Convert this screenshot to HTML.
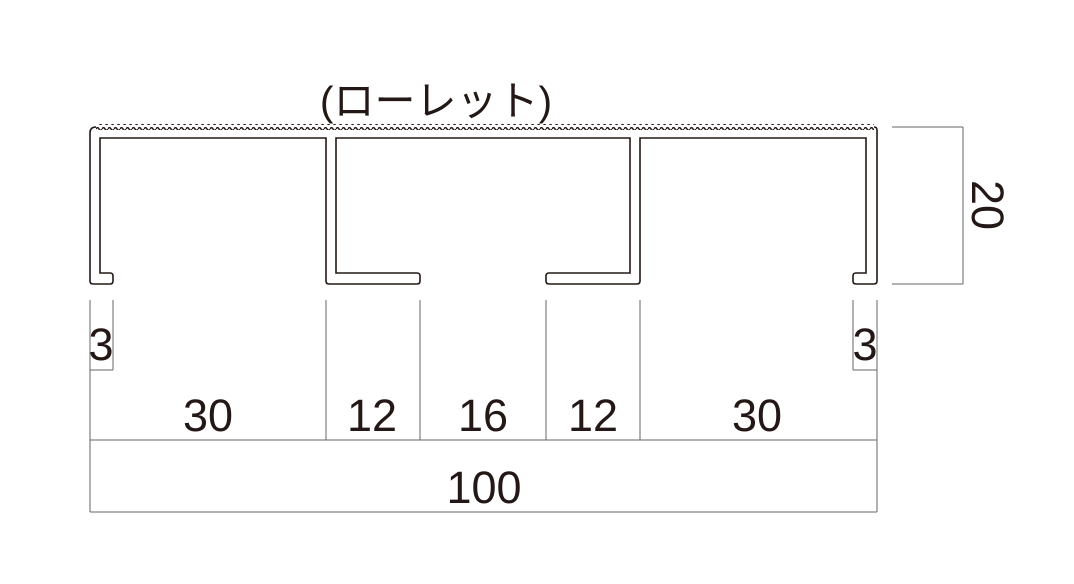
<!DOCTYPE html>
<html><head><meta charset="utf-8"><style>
html,body{margin:0;padding:0;background:#fff;}
svg{display:block}
text{font-family:"Liberation Sans","Noto Sans CJK JP",sans-serif;fill:#231815}
</style></head><body>
<svg width="1074" height="584" viewBox="0 0 1074 584" xmlns="http://www.w3.org/2000/svg">
<defs>
<pattern id="wave" x="0" y="0" width="6" height="6" patternUnits="userSpaceOnUse">
<path d="M0,3 Q1.5,0.3 3,3 T6,3" fill="none" stroke="#231815" stroke-width="1.5"/>
</pattern>
</defs>
<path d="M96,127 Q90,127 90,133 L90,281 Q90,284 93,284 L110,284 Q113,284 113,281 L113,276 Q113,273 110,273 L100,273 L100,138 L326,138 L326,281 Q326,284 329,284 L417,284 Q420,284 420,281 L420,276 Q420,273 417,273 L336,273 L336,138 L630,138 L630,273 L549,273 Q546,273 546,276 L546,281 Q546,284 549,284 L637,284 Q640,284 640,281 L640,138 L866,138 L866,273 L856,273 Q853,273 853,276 L853,281 Q853,284 856,284 L874,284 Q877,284 877,281 L877,130 Q877,127 874,127" fill="none" stroke="#231815" stroke-width="1.6"/>
<rect x="96" y="124" width="778" height="6" fill="url(#wave)"/>
<g stroke="#666" stroke-width="1" fill="none">
<line x1="90" y1="300" x2="90" y2="512"/>
<line x1="113" y1="300" x2="113" y2="370"/>
<line x1="90" y1="370" x2="113" y2="370"/>
<line x1="853" y1="300" x2="853" y2="370"/>
<line x1="853" y1="370" x2="877" y2="370"/>
<line x1="877" y1="300" x2="877" y2="512"/>
<line x1="326" y1="300" x2="326" y2="440"/>
<line x1="420" y1="300" x2="420" y2="440"/>
<line x1="546" y1="300" x2="546" y2="440"/>
<line x1="640" y1="300" x2="640" y2="440"/>
<line x1="90" y1="440" x2="877" y2="440"/>
<line x1="90" y1="512" x2="877" y2="512"/>
<line x1="892" y1="127" x2="963" y2="127"/>
<line x1="892" y1="284" x2="963" y2="284"/>
<line x1="963" y1="127" x2="963" y2="284"/>
</g>
<g font-size="45" text-anchor="middle">
<text x="208" y="431">30</text>
<text x="372" y="431">12</text>
<text x="483" y="431">16</text>
<text x="593" y="431">12</text>
<text x="757" y="431">30</text>
<text x="484" y="503">100</text>
<text x="101" y="360">3</text>
<text x="865" y="360">3</text>
<text transform="translate(972,205) rotate(90)" x="0" y="0">20</text>
</g>
<text x="436" y="115" font-size="41" text-anchor="middle">(ローレット)</text>
</svg>
</body></html>
